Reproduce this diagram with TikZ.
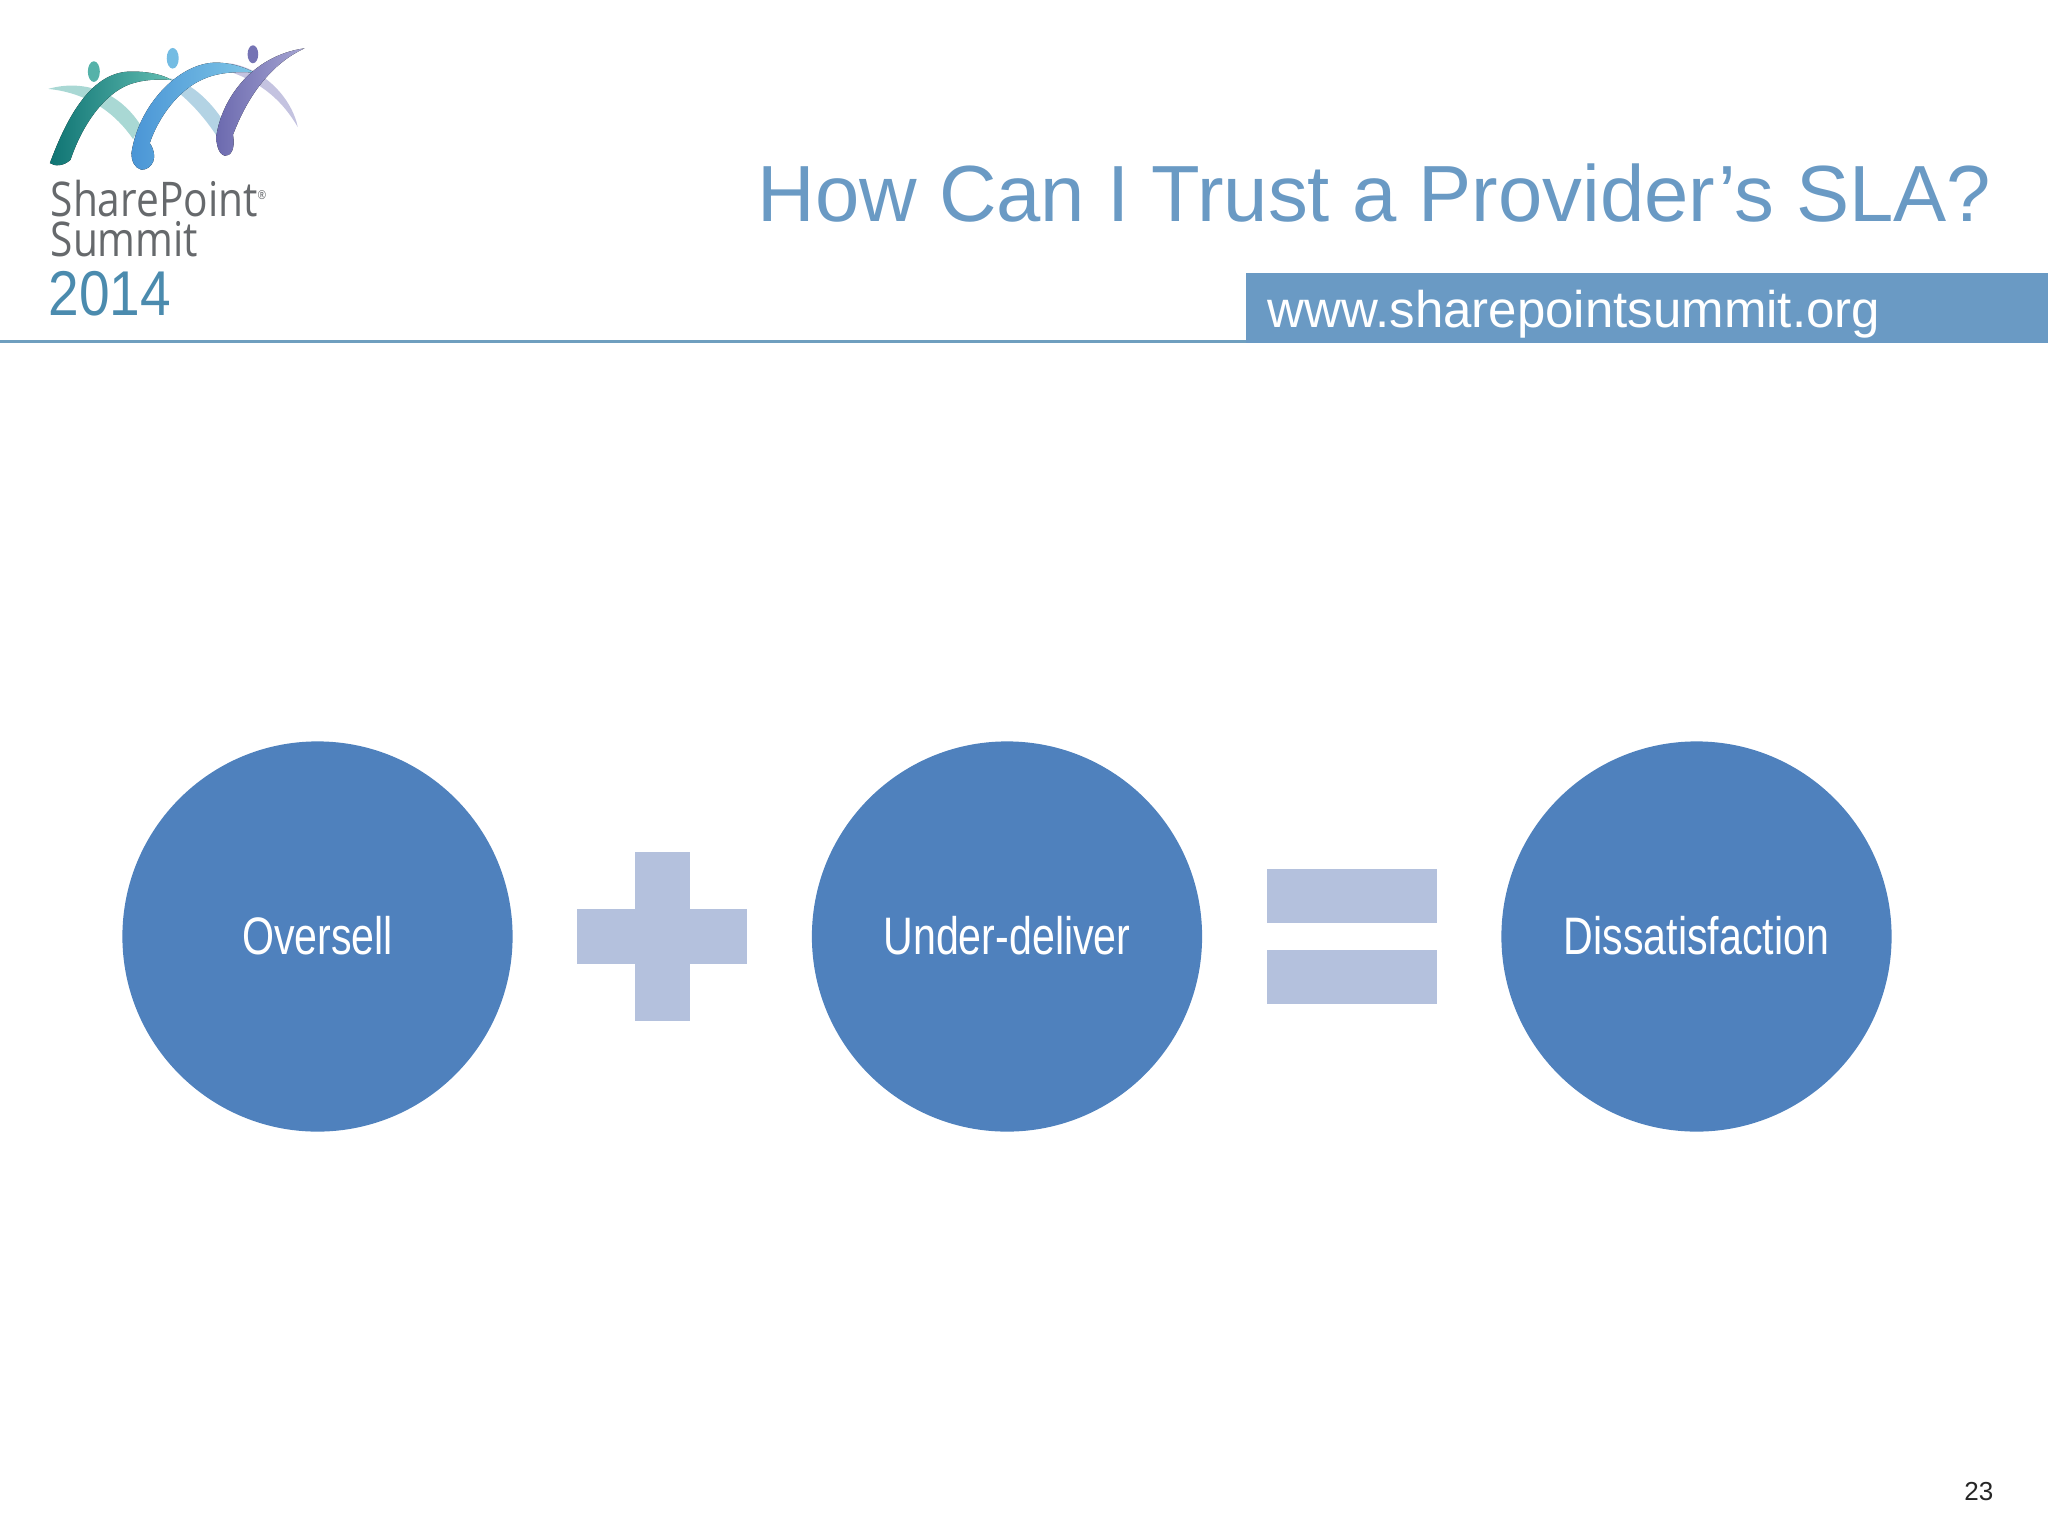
\documentclass[tikz,border=0pt]{standalone}
\usepackage{fontspec}
\setmainfont{Liberation Sans}
\newfontfamily\nar[FakeStretch=0.78]{Liberation Sans}
\newfontfamily\narb[FakeStretch=0.99]{Liberation Sans}
\newfontfamily\yearfont[FakeStretch=0.87]{Liberation Sans}
\newfontfamily\logofont[FakeStretch=0.85]{Open Sans}
\definecolor{titleblue}{HTML}{6A9AC4}
\definecolor{barblue}{HTML}{6A9AC4}
\definecolor{rule}{HTML}{6F9FBF}
\definecolor{circ}{HTML}{4F81BD}
\definecolor{sym}{HTML}{B4C1DD}
\definecolor{lgray}{HTML}{66696C}
\definecolor{lyear}{HTML}{4B8BAE}
\definecolor{tealA}{HTML}{0F7473}
\definecolor{tealB}{HTML}{62BDB2}
\definecolor{tealL}{HTML}{A9D8D4}
\definecolor{blueA}{HTML}{4A95D6}
\definecolor{blueB}{HTML}{7FC6E6}
\definecolor{blueL}{HTML}{B3D3E4}
\definecolor{purpA}{HTML}{6C6AAF}
\definecolor{purpB}{HTML}{A6A5D2}
\definecolor{purpL}{HTML}{C4C3E0}
\tikzset{
  circ/.style={circle,fill=circ,minimum size=3.9cm,inner sep=0pt,text=white,font=\nar\fontsize{15}{16}\selectfont},
  symb/.style={fill=sym,draw=none},
  ltext/.style={anchor=base west,inner sep=0pt,text=lgray,font=\logofont\fontsize{13.6}{16}\selectfont}
}
\begin{document}
\begin{tikzpicture}[x=0.01cm,y=-0.01cm]
\useasboundingbox (0,0) rectangle (2048,1536);
% header
\fill[rule] (0,340) rectangle (1246,342.5);
\fill[barblue] (1246,273) rectangle (2048,342.5);
\node[anchor=base east,inner sep=0pt,text=titleblue,font=\fontsize{22.65}{28}\selectfont] (title) at (1992,221) {How Can I Trust a Provider’s SLA?};
\node[anchor=base west,inner sep=0pt,text=white,font=\narb\fontsize{14.65}{18}\selectfont] (url) at (1267,327) {www.sharepointsummit.org};
% logo
\begin{scope}[shift={(0,20)},x=0.003333cm,y=-0.003333cm]
\fill[tealL] (145,207) .. controls (240,180) and (350,205) .. (422,315) -- (400,358) .. controls (350,285) and (270,220) .. cycle;
\fill[blueL] (510,175) .. controls (570,185) and (630,240) .. (672,305) -- (652,350) .. controls (610,285) and (560,235) .. (525,210) -- cycle;
\fill[purpL] (690,130) .. controls (790,145) and (875,230) .. (895,322) .. controls (850,245) and (790,190) .. (690,155) -- cycle;
\fill[left color=tealA,right color=tealB] (150,430) .. controls (200,295) and (275,150) .. (400,155) .. controls (450,155) and (490,165) .. (515,180) .. controls (470,178) and (430,178) .. (385,195) .. controls (310,225) and (245,320) .. (212,420) .. controls (190,440) and (165,440) .. (150,430) -- cycle;
\fill[left color=blueA,right color=blueB] (395,400) .. controls (415,260) and (535,128) .. (650,128) .. controls (690,128) and (730,140) .. (765,158) .. controls (720,155) and (660,155) .. (610,178) .. controls (535,210) and (475,295) .. (450,370) .. controls (478,410) and (458,450) .. (425,450) .. controls (405,445) and (395,425) .. (395,400) -- cycle;
\fill[left color=purpA,right color=purpB] (650,350) .. controls (665,240) and (755,108) .. (915,85) .. controls (835,122) and (755,200) .. (700,345) .. controls (708,390) and (692,410) .. (675,408) .. controls (660,405) and (650,380) .. (650,350) -- cycle;
\fill[tealB!85!tealA] (282,155) ellipse (18 and 31);
\fill[blueB!80!blueA] (519,115) ellipse (18 and 31);
\fill[purpA!85!purpB] (760,103) ellipse (16 and 27);
\end{scope}
\node[ltext] (lg1) at (50,216) {SharePoint};
\node[anchor=base west,inner sep=0pt,text=lgray,font=\logofont\fontsize{3.5}{4}\selectfont] (lgr) at (257,199) {®};
\node[ltext] (lg2) at (50,256) {Summit};
\node[anchor=base west,inner sep=0pt,text=lyear,font=\yearfont\fontsize{18}{20}\selectfont] (lg3) at (48,315) {2014};
% equation
\node[circ] (c1) at (317.5,936.5) {\raisebox{0.015cm}{Oversell}};
\node[circ] (c2) at (1007,936.5) {\raisebox{0.015cm}{Under-deliver}};
\node[circ] (c3) at (1696.5,936.5) {\raisebox{0.015cm}{Dissatisfaction}};
\fill[symb] (635,852) rectangle (690,1021);
\fill[symb] (577,909) rectangle (747,964);
\fill[symb] (1267,869) rectangle (1437,923);
\fill[symb] (1267,950) rectangle (1437,1004);
\node[anchor=base east,inner sep=0pt,font=\fontsize{7.4}{8}\selectfont,text=black!85] (pg) at (1994,1500) {23};
\end{tikzpicture}
\end{document}
